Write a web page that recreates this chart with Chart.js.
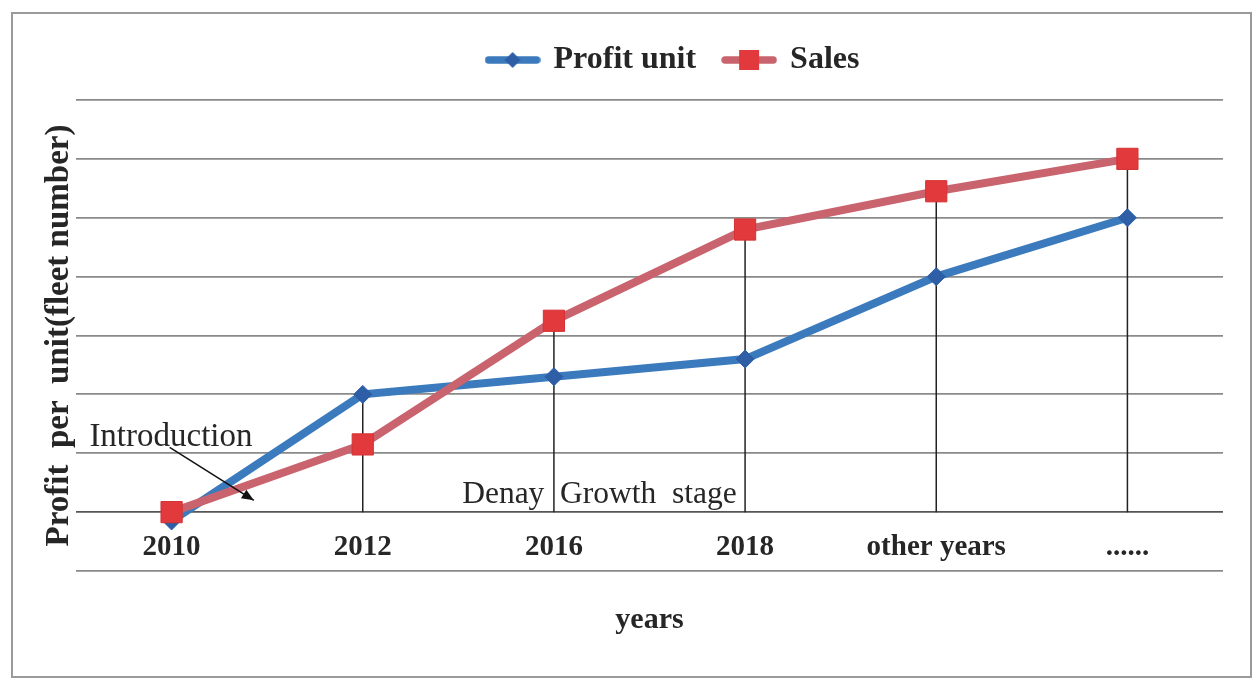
<!DOCTYPE html>
<html>
<head>
<meta charset="utf-8">
<script src="https://cdn.jsdelivr.net/npm/chart.js@4.4.1/dist/chart.umd.min.js"></script>
<style>
html,body{margin:0;padding:0;background:#fff;}
#wrap{width:1258px;height:683px;position:relative;}
</style>
</head>
<body>
<div id="wrap"><canvas id="c" width="1258" height="683"></canvas></div>
<script>
// ---- data ----
const categories = ['2010', '2012', '2016', '2018', 'other years', '......'];
const profitUnit = [-0.15, 2.0, 2.3, 2.6, 4.0, 5.0];
const sales = [0, 1.15, 3.25, 4.8, 5.45, 6.0];
const seriesNames = ['Profit unit', 'Sales'];
const Y_MIN = -1, Y_MAX = 7, Y_STEP = 1;
const xTitle = 'years';
const yTitle = 'Profit  per  unit(fleet number)';
// annotations in data units (x = category index, y = value)
const noteTexts = ['Introduction', 'Denay  Growth  stage'];
const noteX = [-0.43, 1.52];
const noteY = [1.12, 0.15];
const noteSize = [33, 31.5];
const arrowFrom = [-0.01, 1.1];
const arrowTo = [0.43, 0.2];

const FONT = '"Liberation Serif", "Times New Roman", serif';
const TXT = '#262626';
const LEG_DX = 55, LEG_DY = -14;

function legendMarker(lineColor, markerColor, diamond) {
  const c = document.createElement('canvas');
  c.width = 56; c.height = 26;
  const g = c.getContext('2d');
  g.strokeStyle = lineColor; g.lineWidth = 7.5; g.lineCap = 'round';
  g.beginPath(); g.moveTo(4, 13); g.lineTo(52, 13); g.stroke();
  g.fillStyle = markerColor;
  if (diamond) {
    g.beginPath(); g.moveTo(20, 13); g.lineTo(28, 5); g.lineTo(36, 13); g.lineTo(28, 21); g.closePath(); g.fill();
  } else {
    g.fillRect(18, 3, 20, 20);
  }
  return c;
}
const markers = [
  legendMarker('#3b7bbd', '#2d5ea6', true),
  legendMarker('#c9636d', '#e23a3c', false)
];

const decor = {
  id: 'decor',
  beforeDraw(chart) {
    const ctx = chart.ctx;
    ctx.save();
    ctx.fillStyle = '#ffffff';
    ctx.fillRect(0, 0, chart.width, chart.height);
    ctx.strokeStyle = '#9a9a9a';
    ctx.lineWidth = 2;
    ctx.strokeRect(12, 13, 1239, 664);
    ctx.restore();
  },
  afterLayout(chart) {
    const lg = chart.legend;
    lg.left += LEG_DX; lg.right += LEG_DX;
    lg.top += LEG_DY; lg.bottom += LEG_DY;
  },
  beforeDatasetsDraw(chart) {
    const ctx = chart.ctx, xs = chart.scales.x, ys = chart.scales.y;
    ctx.save();
    ctx.strokeStyle = '#222';
    ctx.lineWidth = 1.5;
    const y0 = ys.getPixelForValue(0);
    categories.forEach((c, i) => {
      const top = Math.max(profitUnit[i], sales[i]);
      if (top <= 0) return;
      const x = xs.getPixelForValue(i);
      ctx.beginPath();
      ctx.moveTo(x, ys.getPixelForValue(top));
      ctx.lineTo(x, y0);
      ctx.stroke();
    });
    ctx.restore();
  },
  afterDatasetsDraw(chart) {
    const ctx = chart.ctx, xs = chart.scales.x, ys = chart.scales.y;
    const px = v => xs.getPixelForValue(v);
    ctx.save();
    ctx.fillStyle = TXT;
    ctx.textAlign = 'left';
    ctx.textBaseline = 'alphabetic';
    noteTexts.forEach((t, i) => {
      ctx.font = noteSize[i] + 'px ' + FONT;
      ctx.fillText(t, px(noteX[i]), ys.getPixelForValue(noteY[i]));
    });
    // arrow
    const x0 = px(arrowFrom[0]), y0 = ys.getPixelForValue(arrowFrom[1]);
    const x1 = px(arrowTo[0]), y1 = ys.getPixelForValue(arrowTo[1]);
    ctx.strokeStyle = '#111'; ctx.lineWidth = 1.5;
    ctx.beginPath(); ctx.moveTo(x0, y0); ctx.lineTo(x1, y1); ctx.stroke();
    const a = Math.atan2(y1 - y0, x1 - x0), L = 13, w = 0.4;
    ctx.fillStyle = '#111';
    ctx.beginPath();
    ctx.moveTo(x1, y1);
    ctx.lineTo(x1 - L * Math.cos(a - w), y1 - L * Math.sin(a - w));
    ctx.lineTo(x1 - L * Math.cos(a + w), y1 - L * Math.sin(a + w));
    ctx.closePath(); ctx.fill();
    ctx.restore();
  }
};

new Chart(document.getElementById('c'), {
  type: 'line',
  data: {
    labels: categories,
    datasets: [
      {
        label: seriesNames[0], data: profitUnit, order: 1,
        borderColor: '#3b7bbd', borderWidth: 8, tension: 0,
        pointStyle: 'rectRot', pointRadius: 9, pointHoverRadius: 9,
        pointBackgroundColor: '#2d5ea6', pointBorderColor: '#2d5ea6', pointBorderWidth: 1
      },
      {
        label: seriesNames[1], data: sales, order: 0,
        borderColor: '#c9636d', borderWidth: 8, tension: 0,
        pointStyle: 'rect', pointRadius: 15, pointHoverRadius: 15,
        pointBackgroundColor: '#e23a3c', pointBorderColor: '#d43234', pointBorderWidth: 1
      }
    ]
  },
  options: {
    responsive: false,
    animation: false,
    devicePixelRatio: 1,
    layout: { padding: { left: 14, right: 35, top: 30, bottom: 0 } },
    plugins: {
      tooltip: { enabled: false },
      legend: {
        position: 'top',
        labels: {
          usePointStyle: true,
          pointStyleWidth: 50,
          padding: 28,
          color: TXT,
          font: { family: FONT, size: 32, weight: 'bold' },
          sort: (a, b) => a.datasetIndex - b.datasetIndex,
          generateLabels(chart) {
            const items = Chart.defaults.plugins.legend.labels.generateLabels(chart);
            items.forEach(it => { it.pointStyle = markers[it.datasetIndex]; });
            return items;
          }
        }
      }
    },
    scales: {
      x: {
        type: 'category',
        offset: true,
        grid: { display: false },
        border: { display: false },
        ticks: {
          color: TXT, mirror: true, padding: 6, autoSkip: false, maxRotation: 0,
          font: { family: FONT, size: 29, weight: 'bold' }
        },
        title: {
          display: true, text: xTitle, color: TXT,
          font: { family: FONT, size: 30, weight: 'bold' },
          padding: { top: 0, bottom: 45 }
        },
        afterFit(s) { s.height = 112; }
      },
      y: {
        min: Y_MIN, max: Y_MAX,
        ticks: { display: false, stepSize: Y_STEP },
        grid: {
          color: c => (c.tick && c.tick.value === 0) ? '#555555' : '#8a8a8a',
          lineWidth: 1.8,
          drawTicks: false
        },
        border: { display: false },
        title: {
          display: true, text: yTitle, color: TXT,
          font: { family: FONT, size: 33, weight: 'bold' },
          padding: { top: 26, bottom: 0 }
        },
        afterFit(s) { s.width = 62; }
      }
    }
  },
  plugins: [decor]
});
</script>
</body>
</html>
